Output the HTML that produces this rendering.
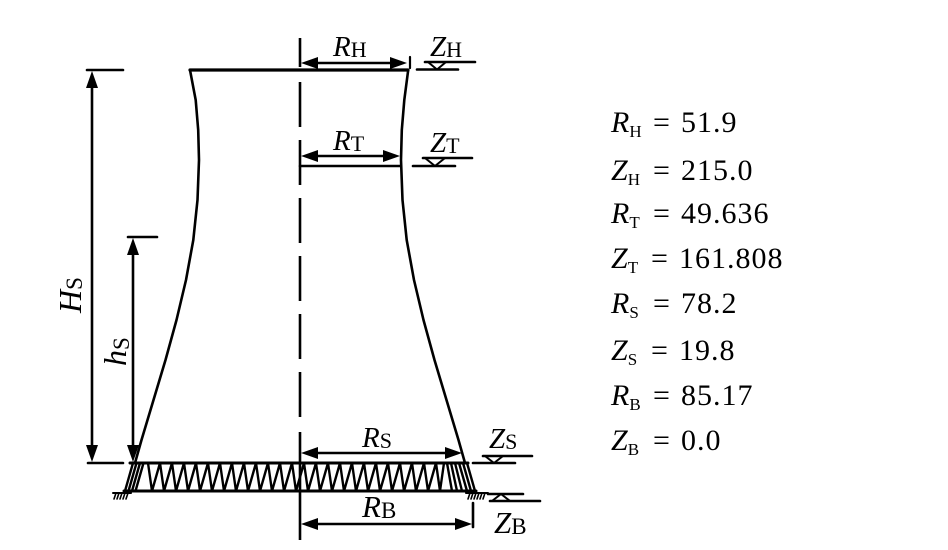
<!DOCTYPE html>
<html>
<head>
<meta charset="utf-8">
<style>
  html, body { margin:0; padding:0; background:#fff; }
  body { width:948px; height:550px; overflow:hidden; position:relative; }
  svg { position:absolute; left:0; top:0; }
  text { font-family: "Liberation Serif", "Times New Roman", serif; fill:#000; }
  .v { font-style: italic; }
</style>
</head>
<body>
<svg width="948" height="550" viewBox="0 0 948 550" xmlns="http://www.w3.org/2000/svg">
  <g stroke="#000" fill="none" stroke-linecap="round" stroke-linejoin="round">
    <!-- tower profile -->
    <polyline stroke-width="2.6" points="190,70 195.7,100 198.2,130 199,160 197.5,200 193.3,240 186,280 176.5,320 165.5,360 153.5,400 141.5,440 135,463"/>
    <polyline stroke-width="2.6" points="408.2,70 404.3,100 401.8,130 401,160 402.5,200 406.7,240 414,280 423.5,320 434.5,360 446.5,400 458.5,440 465,463"/>
    <!-- top line -->
    <line x1="190" y1="70" x2="408" y2="70" stroke-width="3.2"/>

    <!-- center dashed line -->
    <line x1="300" y1="38" x2="300" y2="67" stroke-width="2.6" stroke-linecap="butt"/>
    <line x1="300" y1="82" x2="300" y2="127" stroke-width="2.6" stroke-linecap="butt"/>
    <line x1="300" y1="140" x2="300" y2="185" stroke-width="2.6" stroke-linecap="butt"/>
    <line x1="300" y1="198" x2="300" y2="243" stroke-width="2.6" stroke-linecap="butt"/>
    <line x1="300" y1="256" x2="300" y2="301" stroke-width="2.6" stroke-linecap="butt"/>
    <line x1="300" y1="314" x2="300" y2="359" stroke-width="2.6" stroke-linecap="butt"/>
    <line x1="300" y1="372" x2="300" y2="417" stroke-width="2.6" stroke-linecap="butt"/>
    <line x1="300" y1="432" x2="300" y2="540" stroke-width="2.6" stroke-linecap="butt"/>

    <!-- H_S dimension -->
    <line x1="87" y1="70" x2="123" y2="70" stroke-width="2.6"/>
    <line x1="88" y1="463" x2="123" y2="463" stroke-width="2.6"/>
    <line x1="92" y1="80" x2="92" y2="452" stroke-width="2.6"/>
    <!-- h_S dimension -->
    <line x1="128" y1="237" x2="157" y2="237" stroke-width="2.6"/>
    <line x1="133" y1="247" x2="133" y2="452" stroke-width="2.6"/>

    <!-- horizontal dims -->
    <line x1="310" y1="63" x2="398" y2="63" stroke-width="2.6"/>
    <line x1="410" y1="57" x2="410" y2="68" stroke-width="2.2"/>
    <line x1="310" y1="156" x2="392" y2="156" stroke-width="2.6"/>
    <line x1="300" y1="166" x2="400" y2="166" stroke-width="2.6"/>
    <line x1="310" y1="453" x2="454" y2="453" stroke-width="2.6"/>
    <line x1="310" y1="524" x2="464" y2="524" stroke-width="2.6"/>
    <line x1="473" y1="503" x2="473" y2="527" stroke-width="2.6"/>

    <!-- level markers -->
    <line x1="425" y1="62" x2="475" y2="62" stroke-width="2.6"/>
    <line x1="417" y1="69.5" x2="458" y2="69.5" stroke-width="2.6"/>
    <polygon points="428,62 446,62 437,69.5" stroke-width="2"/>

    <line x1="423" y1="158" x2="472" y2="158" stroke-width="2.6"/>
    <line x1="413" y1="166" x2="455" y2="166" stroke-width="2.6"/>
    <polygon points="425,158 445,158 435,166" stroke-width="2"/>

    <line x1="483" y1="456" x2="532" y2="456" stroke-width="2.6"/>
    <line x1="473" y1="463" x2="515" y2="463" stroke-width="2.6"/>
    <polygon points="485,456 503,456 494,463" stroke-width="2"/>

    <line x1="488" y1="494" x2="523" y2="494" stroke-width="2.6"/>
    <line x1="490" y1="501" x2="540" y2="501" stroke-width="2.6"/>
    <polygon points="492,501 510,501 501,494" stroke-width="2"/>

    <!-- lattice base -->
    <line x1="130" y1="463" x2="468" y2="463" stroke-width="3"/>
    <line x1="124" y1="491" x2="476" y2="491" stroke-width="3"/>
    <g stroke-width="2.4">
      <line x1="133" y1="463" x2="125" y2="491"/>
      <line x1="136.5" y1="463" x2="128.5" y2="491"/>
      <line x1="140" y1="463" x2="132" y2="491"/>
      <line x1="143.5" y1="463" x2="135.5" y2="491"/>
      <line x1="467" y1="463" x2="475" y2="491"/>
      <line x1="463" y1="463" x2="471" y2="491"/>
      <line x1="459" y1="463" x2="467" y2="491"/>
      <line x1="455" y1="463" x2="462" y2="491"/>
      <line x1="451" y1="463" x2="457" y2="491"/>
      <line x1="447" y1="463" x2="452" y2="491"/>
      <polyline points="148,463 152,491 160,463 164,491 172,463 176,491 184,463 188,491 196,463 200,491 208,463 212,491 220,463 224,491 232,463 236,491 244,463 248,491 256,463 260,491 268,463 272,491 280,463 284,491 292,463 296,491 304,463 308,491 316,463 320,491 328,463 332,491 340,463 344,491 352,463 356,491 364,463 368,491 376,463 380,491 388,463 392,491 400,463 404,491 412,463 416,491 424,463 428,491 436,463 440,491 444,463"/>
    </g>
    <!-- ground hatch -->
    <g stroke-width="1.6">
      <line x1="113" y1="493" x2="131" y2="493" stroke-width="2"/>
      <line x1="114" y1="499" x2="116" y2="493"/>
      <line x1="117" y1="499" x2="119" y2="493"/>
      <line x1="120" y1="499" x2="122" y2="493"/>
      <line x1="123" y1="499" x2="125" y2="493"/>
      <line x1="126" y1="499" x2="128" y2="493"/>
      <line x1="466" y1="493" x2="488" y2="493" stroke-width="2"/>
      <line x1="468" y1="499" x2="470" y2="493"/>
      <line x1="471" y1="499" x2="473" y2="493"/>
      <line x1="474" y1="499" x2="476" y2="493"/>
      <line x1="477" y1="499" x2="479" y2="493"/>
      <line x1="480" y1="499" x2="482" y2="493"/>
      <line x1="483" y1="499" x2="485" y2="493"/>
    </g>
  </g>

  <!-- arrowheads -->
  <g fill="#000" stroke="none">
    <polygon points="92,71 86,88 98,88"/>
    <polygon points="92,462 86,445 98,445"/>
    <polygon points="133,238 127,255 139,255"/>
    <polygon points="133,462 127,445 139,445"/>
    <polygon points="301,63 318,57 318,69"/>
    <polygon points="407,63 390,57 390,69"/>
    <polygon points="301,156 318,150 318,162"/>
    <polygon points="400,156 383,150 383,162"/>
    <polygon points="301,453 318,447 318,459"/>
    <polygon points="462,453 445,447 445,459"/>
    <polygon points="301,524 318,518 318,530"/>
    <polygon points="472,524 455,518 455,530"/>
  </g>

  <!-- diagram labels -->
  <text x="333" y="56" font-size="29"><tspan class="v">R</tspan><tspan font-size="22" dy="1">H</tspan></text>
  <text x="430" y="56" font-size="29"><tspan class="v">Z</tspan><tspan font-size="22" dy="1">H</tspan></text>
  <text x="333" y="150" font-size="29"><tspan class="v">R</tspan><tspan font-size="22" dy="1">T</tspan></text>
  <text x="430" y="152" font-size="29"><tspan class="v">Z</tspan><tspan font-size="22" dy="1">T</tspan></text>
  <text x="362" y="447" font-size="29"><tspan class="v">R</tspan><tspan font-size="22" dy="1">S</tspan></text>
  <text x="489" y="448" font-size="29"><tspan class="v">Z</tspan><tspan font-size="22" dy="1">S</tspan></text>
  <text x="362" y="517" font-size="31"><tspan class="v">R</tspan><tspan font-size="23" dy="1">B</tspan></text>
  <text x="494" y="533" font-size="31"><tspan class="v">Z</tspan><tspan font-size="23" dy="1">B</tspan></text>

  <text transform="translate(81,313) rotate(-90)" font-size="32"><tspan class="v">H</tspan><tspan font-size="23" dy="1">S</tspan></text>
  <text transform="translate(126,366) rotate(-90)" font-size="32"><tspan class="v">h</tspan><tspan font-size="23" dy="3">S</tspan></text>

  <!-- right column -->
  <g font-size="30">
    <text x="611" y="132"><tspan class="v">R</tspan><tspan font-size="17" dy="5">H</tspan><tspan dy="-5" x="653">=</tspan><tspan x="681" letter-spacing="1">51.9</tspan></text>
    <text x="611" y="180"><tspan class="v">Z</tspan><tspan font-size="17" dy="5">H</tspan><tspan dy="-5" x="653">=</tspan><tspan x="681" letter-spacing="1">215.0</tspan></text>
    <text x="611" y="223"><tspan class="v">R</tspan><tspan font-size="17" dy="5">T</tspan><tspan dy="-5" x="653">=</tspan><tspan x="681" letter-spacing="1">49.636</tspan></text>
    <text x="611" y="268"><tspan class="v">Z</tspan><tspan font-size="17" dy="5">T</tspan><tspan dy="-5" x="651">=</tspan><tspan x="679" letter-spacing="1">161.808</tspan></text>
    <text x="611" y="313"><tspan class="v">R</tspan><tspan font-size="17" dy="5">S</tspan><tspan dy="-5" x="653">=</tspan><tspan x="681" letter-spacing="1">78.2</tspan></text>
    <text x="611" y="360"><tspan class="v">Z</tspan><tspan font-size="17" dy="5">S</tspan><tspan dy="-5" x="651">=</tspan><tspan x="679" letter-spacing="1">19.8</tspan></text>
    <text x="611" y="405"><tspan class="v">R</tspan><tspan font-size="17" dy="5">B</tspan><tspan dy="-5" x="653">=</tspan><tspan x="681" letter-spacing="1">85.17</tspan></text>
    <text x="611" y="450"><tspan class="v">Z</tspan><tspan font-size="17" dy="5">B</tspan><tspan dy="-5" x="653">=</tspan><tspan x="681" letter-spacing="1">0.0</tspan></text>
  </g>
</svg>
</body>
</html>
